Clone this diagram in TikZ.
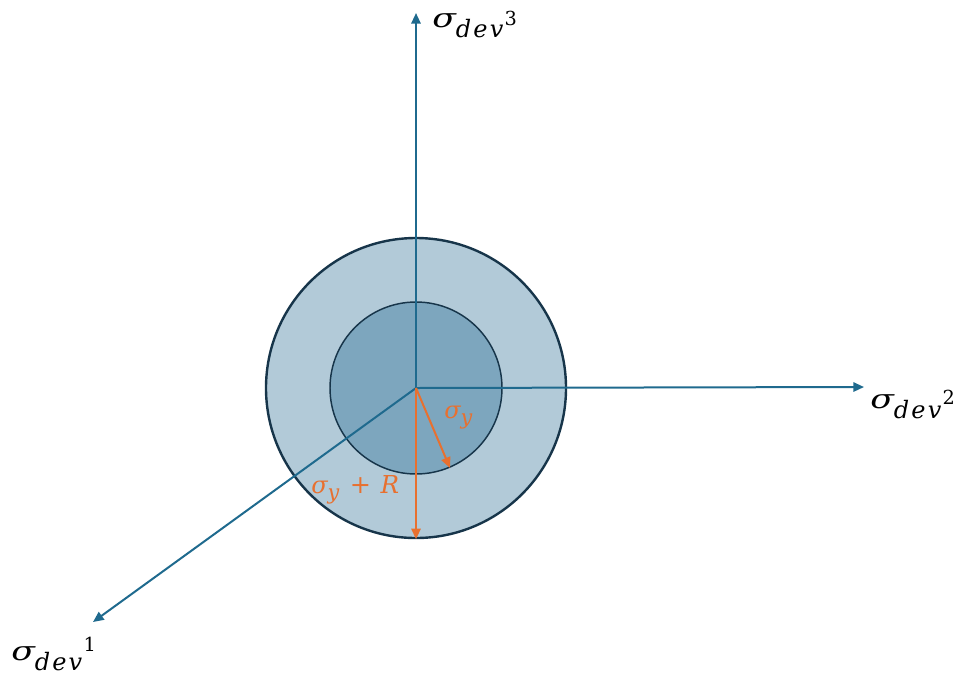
\documentclass[tikz,border=0pt]{standalone}
\usepackage{fontspec}
\usepackage{graphicx}
\usetikzlibrary{arrows.meta}
\newfontfamily\labfont{DejaVu Serif}
\definecolor{axisblue}{HTML}{1F6A8E}
\definecolor{ringdark}{HTML}{17354A}
\definecolor{outerfill}{HTML}{B2CAD8}
\definecolor{innerfill}{HTML}{7DA6BE}
\definecolor{orng}{HTML}{E8702F}
% axis label: sigma_dev followed by a small raised index
\newcommand\axlab[2]{{\fontsize{20}{22}\labfont\itshape\scalebox{1.3}[1]{σ}}%
  \raisebox{-7.5pt}{\fontsize{18}{20}\labfont\itshape d\kern1.6pt e\kern1.6pt v}%
  \kern1pt\raisebox{#2}{\fontsize{14.5}{16}\labfont #1}}
\tikzset{
  axis/.style={draw=axisblue,line width=1.5pt,-{Triangle[length=8pt,width=7pt]}},
  radius arrow/.style={draw=orng,line width=1.5pt,-{Triangle[length=8pt,width=7pt]}},
  axlabel/.style={inner sep=0pt,anchor=base west},
  orlabel/.style={text=orng,inner sep=0pt,anchor=base west}
}
\begin{document}
\begin{tikzpicture}[x=0.75pt,y=-0.75pt]
\useasboundingbox (0,0) rectangle (962,675);
\coordinate (O) at (416,388);
\node[circle,minimum size=300*0.75pt,fill=outerfill,draw=ringdark,line width=1.8pt] (outer) at (O) {};
\node[circle,minimum size=172*0.75pt,fill=innerfill,draw=ringdark,line width=1.1pt] (inner) at (O) {};
\coordinate (t3) at (416,13);
\coordinate (t2) at (864,387);
\coordinate (t1) at (93,622);
\draw[axis] (O) -- (t3);
\draw[axis] (O) -- (t2);
\draw[axis] (O) -- (t1);
\coordinate (ri) at (450,468);
\draw[radius arrow] (O) -- (ri);
\draw[radius arrow] (O) -- (outer.south);
\node[axlabel] (l3) at (432,27) {\axlab{3}{1pt}};
\node[axlabel] (l2) at (870,408) {\axlab{2}{3pt}};
\node[axlabel] (l1) at (11,660) {\axlab{1}{6.5pt}};
\node[orlabel] (ly) at (444,418) {{\fontsize{18}{20}\labfont\itshape σ}\raisebox{-4.5pt}{\fontsize{15.5}{17}\labfont\itshape y}};
\node[orlabel] (lyr) at (311,493) {{\fontsize{18}{20}\labfont\itshape σ}\raisebox{-4.5pt}{\fontsize{15.5}{17}\labfont\itshape y}\kern8pt{\fontsize{19}{20}\labfont +}\kern7pt{\fontsize{18.5}{20}\labfont\itshape R}};
\end{tikzpicture}
\end{document}
